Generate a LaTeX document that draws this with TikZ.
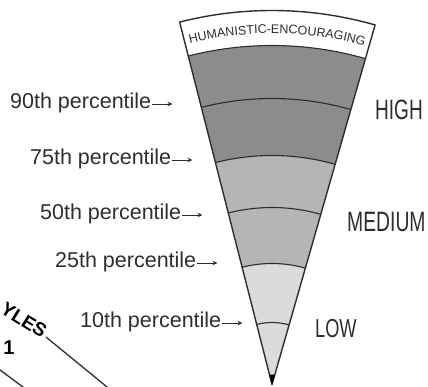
\documentclass[tikz,border=0pt]{standalone}
\usepackage{fontspec}
\setmainfont{Liberation Sans}
\usetikzlibrary{decorations.text,arrows.meta}
\definecolor{bandhigh}{gray}{0.55}
\definecolor{bandmed}{gray}{0.71}
\definecolor{bandlow}{gray}{0.86}
\definecolor{ink}{gray}{0.18}
\begin{document}
\begin{tikzpicture}[x=1pt,y=1pt,
  pct/.style={font=\fontsize{21.5}{22}\selectfont, text=ink, inner sep=0pt, anchor=base west},
  lvl/.style={font=\fontsize{28}{28}\selectfont, text=ink, inner sep=0pt, anchor=base west},
  parrow/.style={draw=ink, line width=0.8pt, -{Stealth[length=5pt,width=4.5pt]}},
  wedgeline/.style={draw=ink, line width=1.4pt, line join=round},
  bound/.style={draw=ink, line width=1.1pt},
  sideline/.style={draw=ink, line width=1.3pt}]
\useasboundingbox (0,0) rectangle (428,387);
\clip (0,0) rectangle (428,387);
\coordinate (A) at (272,2.5);
\begin{scope}[shift={(A)}]
  % bands
  \fill[white] (74:374pt) arc[start angle=74, end angle=104.3, radius=374pt] -- (104.3:339pt) arc[start angle=104.3, end angle=74, radius=339pt] -- cycle;
  \fill[bandhigh] (74:339pt) arc[start angle=74, end angle=104.3, radius=339pt] -- (104.3:229pt) arc[start angle=104.3, end angle=74, radius=229pt] -- cycle;
  \fill[bandmed] (74:229pt) arc[start angle=74, end angle=104.3, radius=229pt] -- (104.3:121pt) arc[start angle=104.3, end angle=74, radius=121pt] -- cycle;
  \fill[bandlow] (74:121pt) arc[start angle=74, end angle=104.3, radius=121pt] -- (0,0) -- cycle;
  % boundaries
  \foreach \r in {339,286,229,177,121,62}
    \draw[bound] (74:\r pt) arc[start angle=74, end angle=104.3, radius=\r pt];
  % outline
  \draw[wedgeline] (0,0) -- (74:374pt) arc[start angle=74, end angle=104.3, radius=374pt] -- cycle;
  \fill[black] (0,0) -- (73:10pt) arc[start angle=73, end angle=105.3, radius=10pt] -- cycle;
  % top label along the arc
  \path[decorate, decoration={text along path, text color=ink, text align=center,
      text={|\fontsize{12.5}{12.5}\selectfont|HUMANISTIC-ENCOURAGING}}]
    (104.3:351pt) arc[start angle=104.3, end angle=74, radius=351pt];
\end{scope}
% percentile labels
\node[pct] (p90) at (10,278) {90th percentile};
\node[pct] (p75) at (30,222) {75th percentile};
\node[pct] (p50) at (40,167) {50th percentile};
\node[pct] (p25) at (55,119) {25th percentile};
\node[pct] (p10) at (80,59) {10th percentile};
\foreach \n in {p90,p75,p50,p25,p10}{
  \coordinate (\n tip) at ([xshift=21pt,yshift=5pt]\n.base east);
  \draw[parrow] ([xshift=1pt,yshift=5pt]\n.base east) -- (\n tip);
}
% level labels
\node[lvl] (high) at (375,267) {\scalebox{0.68}[1]{HIGH}};
\node[lvl] (medium) at (347,155) {\scalebox{0.69}[1]{MEDIUM}};
\node[lvl, font=\fontsize{26}{26}\selectfont] (low) at (315,49) {\scalebox{0.7}[1]{LOW}};
% bottom-left fragment
\node[font=\bfseries\fontsize{19}{19}\selectfont, text=black, rotate=-32, inner sep=0pt] (yles) at (24,67) {YLES};
\node[font=\bfseries\fontsize{20}{20}\selectfont, text=black, inner sep=0pt] (one) at (9,39) {1};
\draw[sideline] (46,50) -- (110.7,-3);
\draw[sideline] (-4,20) -- (27,-3);
\end{tikzpicture}
\end{document}
